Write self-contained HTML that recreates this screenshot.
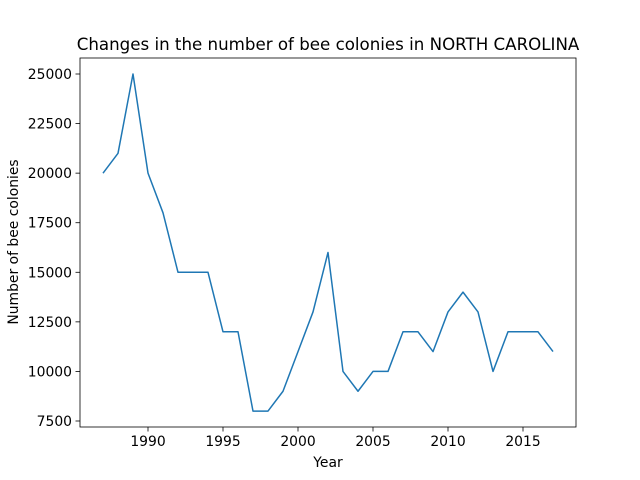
<!DOCTYPE html>
<html><head><meta charset="utf-8"><style>body{margin:0;background:#fff}svg{display:block;font-family:"DejaVu Sans","Liberation Sans",sans-serif}</style></head>
<body>
<svg id="chart" width="640" height="480" viewBox="0 0 640 480">
<rect width="640" height="480" fill="#fff"/>
<text x="328" y="50" text-anchor="middle" font-size="16.67" fill="#000">Changes in the number of bee colonies in NORTH CAROLINA</text>
<g id="xt"></g><g id="yt"></g>
<path id="line" fill="none" stroke="#1f77b4" stroke-width="1.5" stroke-linejoin="round"/>
<rect x="80" y="58" width="496" height="369" fill="none" stroke="#000" stroke-width="0.8"/>
<text x="328" y="467" text-anchor="middle" font-size="13.9">Year</text>
<text transform="translate(18,242) rotate(-90)" text-anchor="middle" font-size="13.9">Number of bee colonies</text>
</svg>
<script>
const years=[1987,1988,1989,1990,1991,1992,1993,1994,1995,1996,1997,1998,1999,2000,2001,2002,2003,2004,2005,2006,2007,2008,2009,2010,2011,2012,2013,2014,2015,2016,2017];
const colonies=[20000,21000,25000,20000,18000,15000,15000,15000,12000,12000,8000,8000,9000,11000,13000,16000,10000,9000,10000,10000,12000,12000,11000,13000,14000,13000,10000,12000,12000,12000,11000];
const xTicks=[1990,1995,2000,2005,2010,2015];
const yTicks=[7500,10000,12500,15000,17500,20000,22500,25000];
const NS="http://www.w3.org/2000/svg";
const fx=v=>148+(v-1990)*15;
const fy=v=>74+(25000-v)*347/17500;
let d="";
years.forEach((y,i)=>{d+=(i?"L":"M")+fx(y)+","+fy(colonies[i]);});
document.getElementById("line").setAttribute("d",d);
const xt=document.getElementById("xt"),yt=document.getElementById("yt");
xTicks.forEach(t=>{
 const l=document.createElementNS(NS,"line");
 l.setAttribute("x1",fx(t));l.setAttribute("x2",fx(t));l.setAttribute("y1",427);l.setAttribute("y2",431.5);l.setAttribute("stroke","#000");l.setAttribute("stroke-width","0.8");
 
 
 xt.appendChild(l);
 const s=document.createElementNS(NS,"text");
 s.setAttribute("x",fx(t));s.setAttribute("y",446);s.setAttribute("text-anchor","middle");s.setAttribute("font-size","13.9");s.textContent=t;
 
 
 xt.appendChild(s);
});
yTicks.forEach(t=>{
 const l=document.createElementNS(NS,"line");
 l.setAttribute("x1",75.5);l.setAttribute("x2",80);l.setAttribute("y1",fy(t));l.setAttribute("y2",fy(t));l.setAttribute("stroke","#000");l.setAttribute("stroke-width","0.8");
 
 
 yt.appendChild(l);
 const s=document.createElementNS(NS,"text");
 s.setAttribute("x",72);s.setAttribute("y",fy(t)+5);s.setAttribute("text-anchor","end");s.setAttribute("font-size","13.9");s.textContent=t;
 
 
 yt.appendChild(s);
});
</script>
</body></html>
